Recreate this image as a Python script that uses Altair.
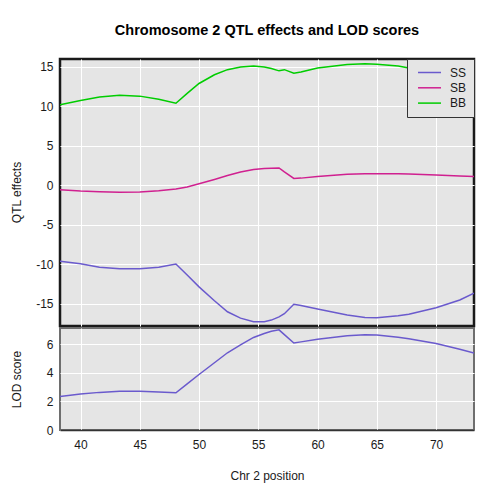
import altair as alt
import pandas as pd

# positions (cM) along chromosome 2
pos = [38.27, 40.0, 41.6, 43.3, 45.0, 46.6, 48.05, 49.0, 50.0, 51.3, 52.4, 53.5,
       54.6, 55.5, 56.1, 56.75, 57.2, 58.0, 58.6, 60.0, 62.5, 64.0, 65.0, 66.8,
       67.7, 70.0, 72.0, 73.2]
ss = [-9.6, -9.93, -10.35, -10.55, -10.55, -10.35, -9.95, -11.35, -12.85, -14.6, -16.0, -16.8,
      -17.25, -17.25, -17.05, -16.65, -16.25, -15.05, -15.2, -15.65, -16.4, -16.72, -16.75, -16.5,
      -16.3, -15.5, -14.5, -13.65]
sb = [-0.55, -0.72, -0.82, -0.88, -0.85, -0.67, -0.45, -0.2, 0.2, 0.75, 1.25, 1.7,
      2.0, 2.13, 2.18, 2.2, 1.7, 0.88, 0.92, 1.14, 1.4, 1.47, 1.48, 1.46,
      1.44, 1.31, 1.2, 1.14]
bb = [10.2, 10.75, 11.2, 11.4, 11.3, 10.9, 10.4, 11.65, 12.9, 14.0, 14.65, 15.0,
      15.1, 15.0, 14.8, 14.5, 14.65, 14.2, 14.35, 14.85, 15.3, 15.4, 15.35, 15.1,
      14.85, 14.2, 13.2, 12.5]
lod = [2.35, 2.52, 2.63, 2.7, 2.7, 2.66, 2.6, 3.23, 3.88, 4.7, 5.4, 5.95,
       6.47, 6.75, 6.9, 7.0, 6.67, 6.08, 6.16, 6.35, 6.58, 6.66, 6.64, 6.48,
       6.38, 6.05, 5.65, 5.38]

genotypes = ["SS", "SB", "BB"]
colors = ["#6A5ACD", "#D02090", "#00CD00"]
x_ticks = [40, 45, 50, 55, 60, 65, 70]
eff_ticks = [-15, -10, -5, 0, 5, 10, 15]
lod_ticks = [0, 2, 4, 6]

rows = []
for g, vals in zip(genotypes, [ss, sb, bb]):
    for p, v in zip(pos, vals):
        rows.append({"pos": p, "effect": v, "geno": g, "order": genotypes.index(g)})
eff_df = pd.DataFrame(rows)
lod_df = pd.DataFrame({"pos": pos, "lod": lod})

FONT = "Liberation Sans"
W = 414
xdom = [38.27, 73.2]

top = alt.Chart(eff_df).mark_line(strokeWidth=1.5, clip=True).encode(
    x=alt.X("pos:Q", scale=alt.Scale(domain=xdom, nice=False, zero=False),
            axis=alt.Axis(values=x_ticks, labels=False, ticks=False, domain=False,
                          title=None, grid=True, gridColor="white", gridWidth=1)),
    y=alt.Y("effect:Q", scale=alt.Scale(domain=[-17.8, 16.0], nice=False, zero=False),
            axis=alt.Axis(values=eff_ticks, ticks=False, domain=False, grid=True,
                          gridColor="white", gridWidth=1, labelPadding=7,
                          labelExpr="toString(datum.value)",
                          labelFont=FONT, labelFontSize=12, labelColor="#1a1a1a",
                          title="QTL effects", titleFont=FONT, titleFontSize=12,
                          titleFontWeight="normal", titleColor="#1a1a1a",
                          titleX=-44, titleY=133, titleBaseline="middle",
                          titleAlign="center", titleAngle=270)),
    color=alt.Color("geno:N", scale=alt.Scale(domain=genotypes, range=colors),
                    legend=alt.Legend(title=None, orient="top-right", offset=0,
                                      symbolType="M-2,0H2", symbolSize=132,
                                      symbolStrokeWidth=1.5, symbolOffset=9,
                                      labelFont=FONT, labelFontSize=12,
                                      labelColor="#1a1a1a", labelOffset=14,
                                      padding=7, rowPadding=2.3,
                                      fillColor="#E5E5E5", strokeColor="#333333")),
    order="order:Q",
    detail="geno:N",
).properties(
    width=W, height=267,
    view=alt.ViewBackground(fill="#E5E5E5", stroke="#1a1a1a", strokeWidth=2.5),
    title=alt.TitleParams("Chromosome 2 QTL effects and LOD scores", font=FONT,
                          fontSize=14.5, fontWeight="bold", color="black",
                          anchor="middle", offset=20),
)

bottom = alt.Chart(lod_df).mark_line(strokeWidth=1.5, color="#6A5ACD", clip=True).encode(
    x=alt.X("pos:Q", scale=alt.Scale(domain=xdom, nice=False, zero=False),
            axis=alt.Axis(values=x_ticks, ticks=False, domain=True, domainColor="#333333",
                          domainWidth=1.5, grid=True, gridColor="white", gridWidth=1,
                          labelPadding=9, labelFont=FONT, labelFontSize=12,
                          labelColor="#1a1a1a", title="Chr 2 position", titleFont=FONT,
                          titleFontSize=12, titleFontWeight="normal", titleColor="#1a1a1a",
                          titleY=45, titleBaseline="middle")),
    y=alt.Y("lod:Q", scale=alt.Scale(domain=[0, 7.13], nice=False, zero=False),
            axis=alt.Axis(values=lod_ticks, ticks=False, domain=False, grid=True,
                          gridColor="white", gridWidth=1, labelPadding=7,
                          labelFont=FONT, labelFontSize=12, labelColor="#1a1a1a",
                          title="LOD score", titleFont=FONT, titleFontSize=12,
                          titleFontWeight="normal", titleColor="#1a1a1a",
                          titleX=-44, titleY=51, titleBaseline="middle",
                          titleAlign="center", titleAngle=270)),
).properties(
    width=W, height=102,
    view=alt.ViewBackground(fill="#E5E5E5", stroke="#6e6e6e", strokeWidth=2),
)

chart = alt.vconcat(top, bottom, spacing=-3).resolve_legend(color="independent").resolve_scale(
    color="independent").properties(
    padding={"left": 0, "top": 13, "right": 5, "bottom": 5},
    background="white",
)

chart.save("out.html", embed_options={"renderer": "svg", "actions": False})
